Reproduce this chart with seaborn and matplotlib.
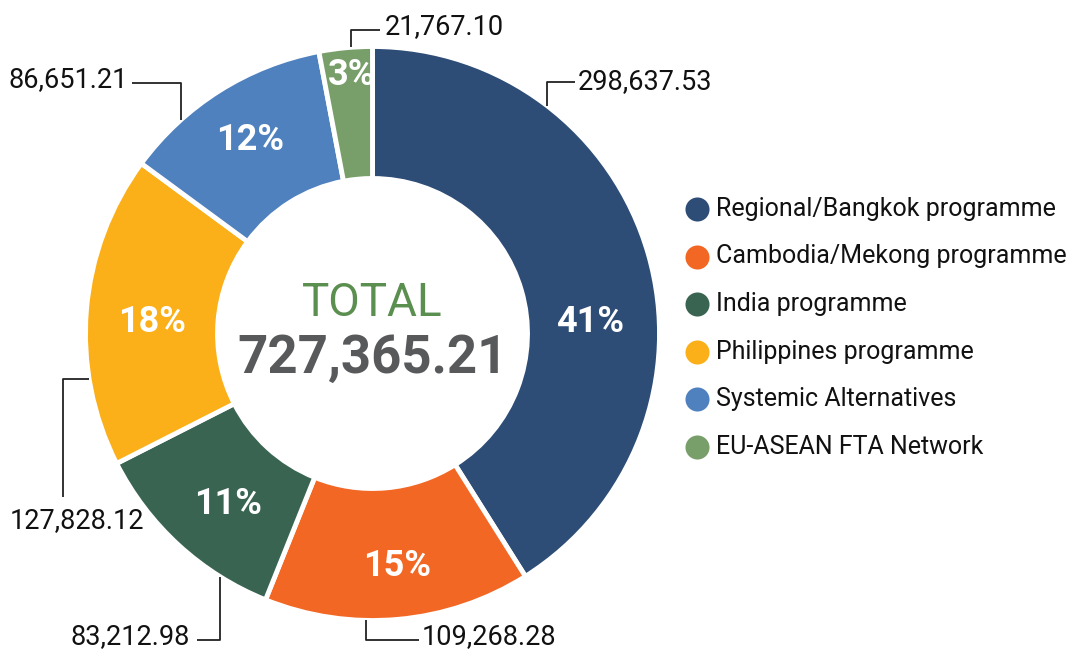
import matplotlib
matplotlib.use("Agg")
import matplotlib.pyplot as plt
import seaborn as sns
import numpy as np

sns.set_theme(style="white")
plt.rcParams['font.family'] = ['Roboto', 'DejaVu Sans']

categories = ["Regional/Bangkok programme", "Cambodia/Mekong programme", "India programme",
              "Philippines programme", "Systemic Alternatives", "EU-ASEAN FTA Network"]
values = [298637.53, 109268.28, 83212.98, 127828.12, 86651.21, 21767.10]
value_labels = ["298,637.53", "109,268.28", "83,212.98", "127,828.12", "86,651.21", "21,767.10"]
pct_labels = ["41%", "15%", "11%", "18%", "12%", "3%"]
total_label = "727,365.21"
colors = ["#2D4D76", "#F26724", "#3A6452", "#FBAF19", "#4F81BE", "#789E6A"]

W, H = 1086, 652
fig = plt.figure(figsize=(W / 100, H / 100), dpi=100)
ax = fig.add_axes([0, 0, 1, 1])

cx, cy = 372.5, H - 333.5
R = 287
width = 132

wedges, _ = ax.pie(values, colors=colors, startangle=90, counterclock=False,
                   radius=R, center=(cx, cy),
                   wedgeprops=dict(width=width, edgecolor="white", linewidth=3.5))
ax.set_xlim(0, W)
ax.set_ylim(0, H)
ax.set_aspect("equal")
ax.axis("off")

# percentage labels inside wedges (pixel positions, layout only)
pct_pos = [(590, 322), (397, 566), (228, 504), (152, 322), (250, 140), (352, 75)]
for lab, (px, py) in zip(pct_labels, pct_pos):
    ax.text(px, H - py, lab, color="white", fontsize=26, fontweight="bold",
            ha="center", va="center")

# centre text
ax.text(cx, H - 303, "TOTAL", color="#5B8F4F", fontsize=33, ha="center", va="center")
ax.text(cx, H - 358, total_label, color="#58595B", fontsize=38, fontweight="bold",
        ha="center", va="center")

def circle_y(x, upper):
    d = np.sqrt(max(R**2 - (x - cx)**2, 0))
    return cy + d if upper else cy - d

def circle_x(y, left):
    d = np.sqrt(max(R**2 - (y - cy)**2, 0))
    return cx - d if left else cx + d

# leader lines: (kind, elbow_x, elbow_y, end_x, end_y, text_x, text_y, ha)
leaders = [
    ("v", 547, 82, 575, 82, 578, 82, "left"),
    ("v", 366, 640, 419, 640, 422, 637, "left"),
    ("v", 220, 640, 197, 640, 190, 637, "right"),
    ("h", 63, 379, 63, 497, 77, 521, "center"),
    ("v", 181, 83, 132, 83, 128, 80, "right"),
    ("v", 351, 30, 380, 30, 385, 27, "left"),
]
for (kind, ex, ey, tx2, ty2, txx, tyy, ha), lab in zip(leaders, value_labels):
    ey_d, ty2_d, tyy_d = H - ey, H - ty2, H - tyy
    if kind == "v":
        a_y = circle_y(ex, upper=(ey_d > cy))
        xs = [ex, ex, tx2]
        ys = [a_y, ey_d, ty2_d]
    else:
        a_x = circle_x(ey_d, left=(ex < cx))
        xs = [a_x, ex, tx2]
        ys = [ey_d, ey_d, ty2_d]
    ax.plot(xs, ys, color="#222222", lw=1.3, solid_capstyle="butt")
    ax.text(txx, tyy_d, lab, fontsize=19.5, color="#111111", ha=ha, va="center")

# legend
leg_y0, leg_dy = 209, 47.5
for i, (c, lab) in enumerate(zip(colors, categories)):
    y = H - (leg_y0 + i * leg_dy)
    ax.scatter([697], [y], s=300, color=c, linewidths=0)
    ax.text(716, y, lab, fontsize=18, color="#111111", ha="left", va="center")

fig.savefig("out.png", dpi=100, facecolor="white")
